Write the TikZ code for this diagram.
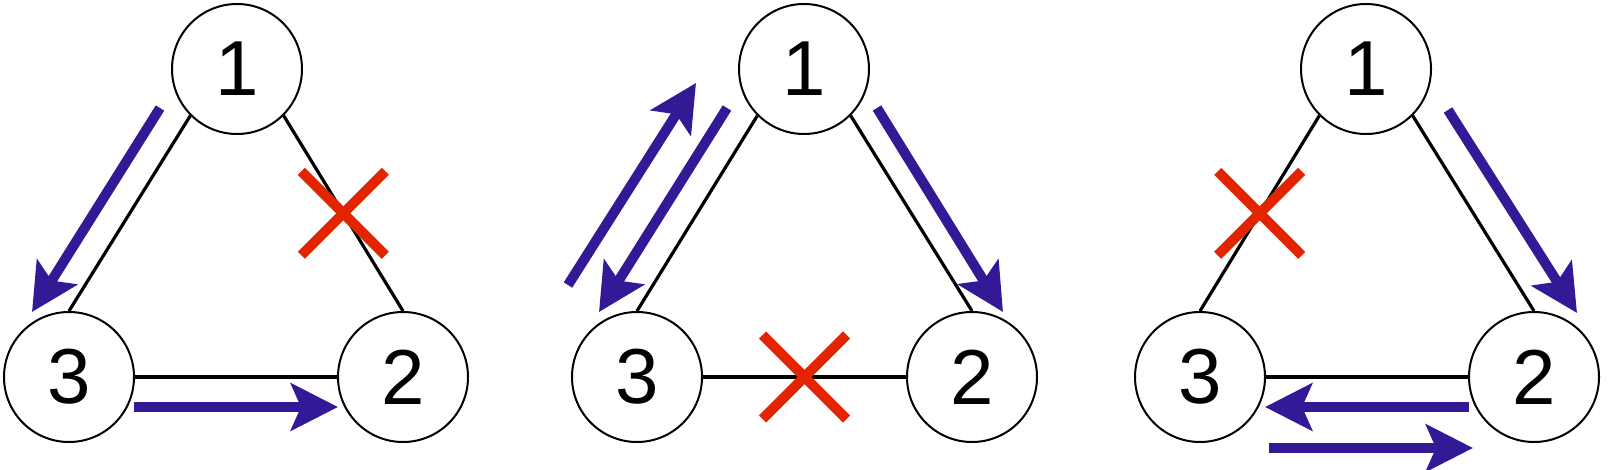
\documentclass[tikz,border=0pt]{standalone}
\usepackage{fontspec}
\setmainfont{Liberation Sans}
\usetikzlibrary{arrows.meta,calc,shapes.misc}
\definecolor{arrowblue}{RGB}{52,25,150}
\definecolor{crossred}{RGB}{226,36,0}
\begin{document}
\begin{tikzpicture}[x=1pt,y=-1pt,
  vertex/.style={circle, draw=black, line width=2pt, minimum size=130pt, inner sep=0pt,
    font=\fontsize{78}{80}\selectfont, fill=white},
  edge/.style={draw=black, line width=3.2pt},
  flow/.style={color=arrowblue, line width=10pt,
    -{Stealth[length=47pt,width=47pt,inset=10pt]}},
  cut/.style={cross out, draw=crossred, line width=10pt, minimum size=74pt, inner sep=0pt}
]
\useasboundingbox (0,0) rectangle (1608,470);

% ---------- panel 1 ----------
\node[vertex] (a1) at (237,69) {1};
\node[vertex] (a2) at (403,377) {2};
\node[vertex] (a3) at (69,377) {3};
\draw[edge] (a1.south west) -- (a3.north);
\draw[edge] (a1.south east) -- (a2.north);
\draw[edge] (a3.east) -- (a2.west);
\node[cut] (xa) at ($(a1.south east)!0.5!(a2.north)$) {};
\coordinate (a13s) at (160,108);
\coordinate (a13e) at (32,312);
\coordinate (a32s) at (134,407);
\coordinate (a32e) at (338,407);
\draw[flow] (a13s) -- (a13e);
\draw[flow] (a32s) -- (a32e);

% ---------- panel 2 ----------
\node[vertex] (b1) at (804,69) {1};
\node[vertex] (b2) at (972,377) {2};
\node[vertex] (b3) at (637,377) {3};
\draw[edge] (b1.south west) -- (b3.north);
\draw[edge] (b1.south east) -- (b2.north);
\draw[edge] (b3.east) -- (b2.west);
\node[cut] (xb) at ($(b3.east)!0.5!(b2.west)$) {};
\coordinate (b31s) at (568,285);
\coordinate (b31e) at (696,83);
\coordinate (b13s) at (727,108);
\coordinate (b13e) at (599,312);
\coordinate (b12s) at (877,108);
\coordinate (b12e) at (1003,312);
\draw[flow] (b31s) -- (b31e);
\draw[flow] (b13s) -- (b13e);
\draw[flow] (b12s) -- (b12e);

% ---------- panel 3 ----------
\node[vertex] (c1) at (1366,69) {1};
\node[vertex] (c2) at (1534,377) {2};
\node[vertex] (c3) at (1200,377) {3};
\draw[edge] (c1.south west) -- (c3.north);
\draw[edge] (c1.south east) -- (c2.north);
\draw[edge] (c3.east) -- (c2.west);
\node[cut] (xc) at ($(c1.south west)!0.5!(c3.north)$) {};
\coordinate (c12s) at (1448,110);
\coordinate (c12e) at (1577,313);
\coordinate (c23s) at (1469,407);
\coordinate (c23e) at (1265,407);
\coordinate (c32s) at (1269,448);
\coordinate (c32e) at (1473,448);
\draw[flow] (c12s) -- (c12e);
\draw[flow] (c23s) -- (c23e);
\draw[flow] (c32s) -- (c32e);
\end{tikzpicture}
\end{document}
